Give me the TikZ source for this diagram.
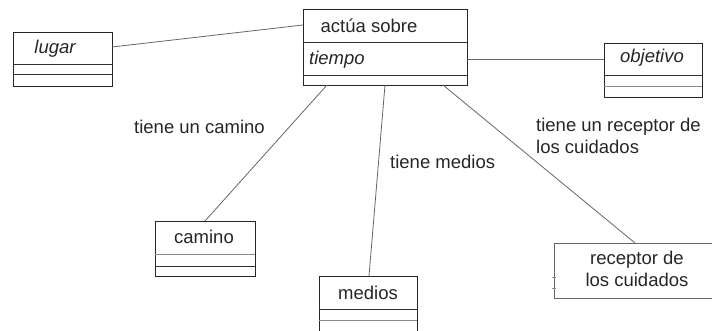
\documentclass[tikz,border=0pt]{standalone}
\usepackage{fontspec}
\setmainfont{Liberation Sans}
\begin{document}
\begin{tikzpicture}[x=1pt,y=-1pt,
  frame/.style={draw=black!85,line width=1pt,inner sep=0pt,anchor=north west},
  sep/.style={draw=black!80,line width=0.9pt},
  gsep/.style={draw=black!45,line width=0.9pt},
  link/.style={draw=black!60,line width=0.8pt},
  txt/.style={font=\fontsize{18.5}{22}\selectfont,text=black!85,inner sep=0pt},
  itxt/.style={txt,font=\fontsize{18.5}{22}\selectfont\itshape}]
\useasboundingbox (0,0) rectangle (712,330);
\begin{scope}
\clip (0,0) rectangle (712,330);
% boxes
\node[frame,minimum width=99,minimum height=54] (lugar) at (13,32) {};
\node[itxt] (lugart) at (55,49) {lugar};
\draw[sep] (13,64) -- (112,64);
\draw[sep] (13,74) -- (112,74);

\node[frame,minimum width=164,minimum height=76] (actua) at (303,9) {};
\node[txt] (actuat) at (369,26) {actúa sobre};
\node[itxt,anchor=west] (tiempo) at (309,60) {tiempo};
\draw[sep] (303,42) -- (467,42);
\draw[sep] (303,75) -- (467,75);

\node[frame,minimum width=98,minimum height=54] (obj) at (604,43) {};
\node[itxt] (objt) at (652,58) {objetivo};
\draw[sep] (604,75) -- (702,75);
\draw[gsep] (604,86) -- (702,86);

\node[frame,minimum width=100,minimum height=55] (camino) at (155,221) {};
\node[txt] (caminot) at (204,237) {camino};
\draw[gsep] (155,254) -- (255,254);
\draw[sep] (155,266) -- (255,266);

\node[frame,minimum width=98,minimum height=70] (medios) at (319,276) {};
\node[txt] (mediost) at (368,293) {medios};
\draw[sep] (319,309) -- (417,309);
\draw[gsep] (319,320) -- (417,320);

\node[frame,draw=black!60,minimum width=170,minimum height=55] (recep) at (554,243) {};
\node[txt,align=center] (recept) at (637,269) {receptor de\\los cuidados};
\draw[gsep] (552,277) -- (556,277);
\draw[gsep] (552,288) -- (556,288);

% connector endpoints
\coordinate (a1) at (303,25);
\coordinate (l1) at (112,47);
\coordinate (a2) at (467,59);
\coordinate (o1) at (604,59);
\coordinate (a3) at (327,85);
\coordinate (c1) at (205,221);
\coordinate (a4) at (385,85);
\coordinate (m1) at (369,276);
\coordinate (a5) at (443,85);
\coordinate (r1) at (635,243);
\draw[link] (l1) -- (a1);
\draw[link] (a2) -- (o1);
\draw[link] (a3) -- (c1);
\draw[link] (a4) -- (m1);
\draw[link] (a5) -- (r1);

% labels
\node[txt,anchor=west] (lab1) at (134,127) {tiene un camino};
\node[txt,anchor=west] (lab2) at (390,162) {tiene medios};
\node[txt,anchor=west,align=left] (lab3) at (536,135.5) {tiene un receptor de\\los cuidados};
\end{scope}
\end{tikzpicture}
\end{document}
